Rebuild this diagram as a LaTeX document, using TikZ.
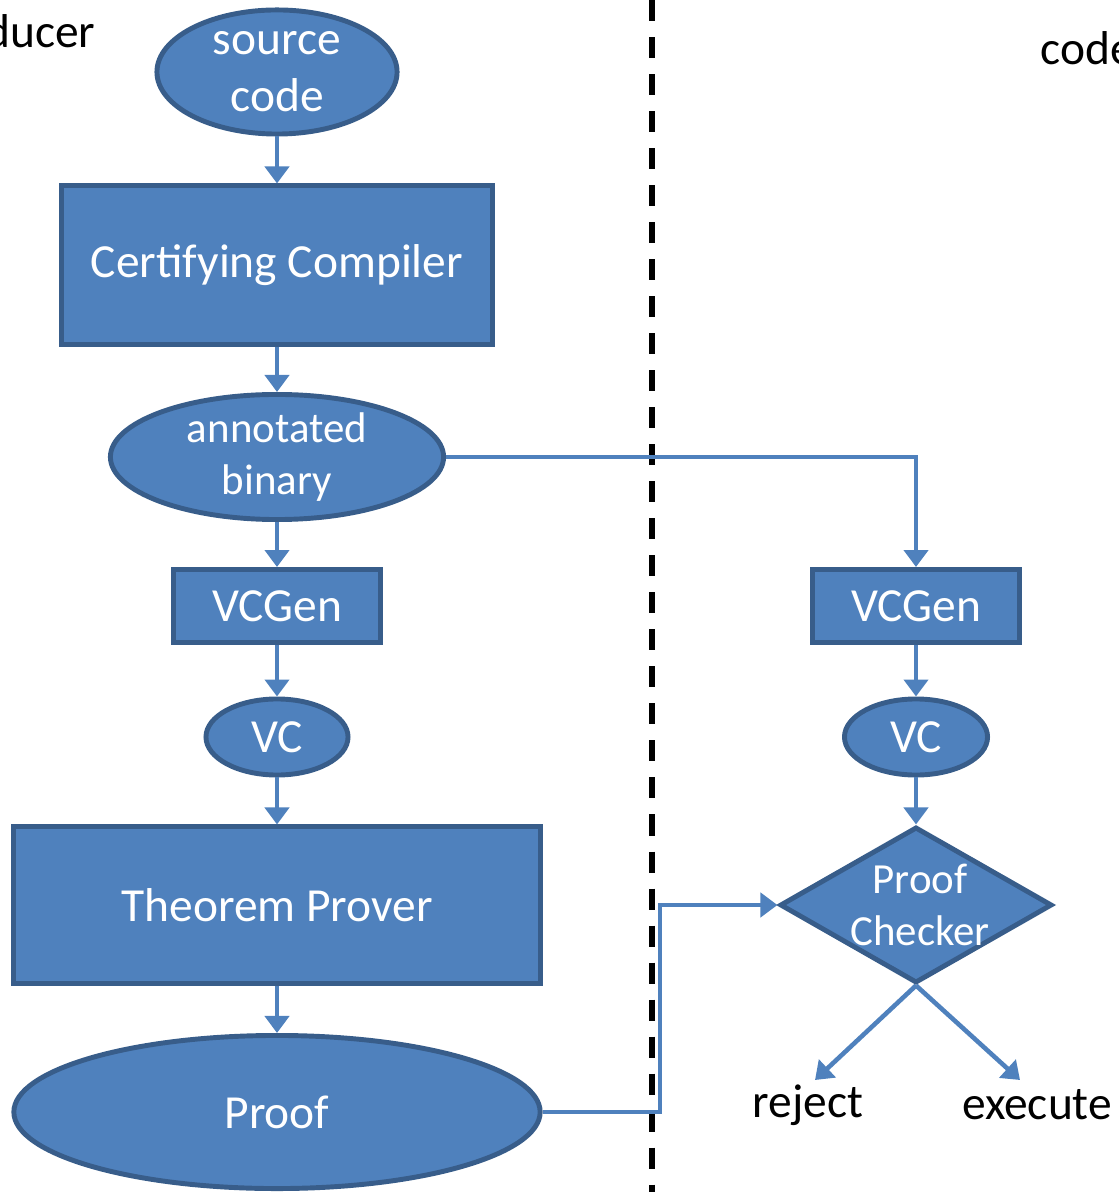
\documentclass[tikz,border=0pt]{standalone}
\usepackage{fontspec}
\setmainfont{Carlito}
\usetikzlibrary{positioning,shapes.geometric,arrows.meta}
\definecolor{boxblue}{HTML}{4F81BD}
\definecolor{boxedge}{HTML}{385D8A}

\begin{document}
\begin{tikzpicture}[x=0.01cm,y=-0.01cm,
  every node/.style={font=\fontsize{13.5}{16.2}\selectfont},
  small/.style={font=\fontsize{12.2}{14.6}\selectfont},
  shp/.style={fill=boxblue,draw=boxedge,line width=1.4pt,text=white,inner sep=0pt,align=center},
  blob/.style={shp,ellipse},
  blk/.style={shp,rectangle},
  flow/.style={draw=boxblue,line width=1.3pt,-{Triangle[width=0.24cm,length=0.17cm]}}
]
  \useasboundingbox (0,0) rectangle (1118,1192);

  % split between producer and consumer
  \draw[line width=1.6pt,dash pattern=on 0.21cm off 0.16cm] (652,0) -- (652,1192);
  \node[anchor=base east,inner sep=0pt] (prod) at (96,48) {code producer};
  \node[anchor=base west,inner sep=0pt] (cons) at (1040,65) {code consumer};

  % producer side
  \node[blob,minimum width=2.40cm,minimum height=1.24cm] (src) at (277,72) {source\\code};
  \node[blk,minimum width=4.30cm,minimum height=1.58cm] (cc) at (277,265) {Certifying Compiler};
  \node[blob,small,minimum width=3.33cm,minimum height=1.25cm] (ab) at (277,457) {annotated\\binary};
  \node[blk,minimum width=2.06cm,minimum height=0.73cm] (vg) at (277,606) {VCGen};
  \node[blob,minimum width=1.42cm,minimum height=0.76cm] (vc) at (277,737) {VC};
  \node[blk,minimum width=5.26cm,minimum height=1.56cm] (tp) at (277,905) {Theorem Prover};
  \node[blob,minimum width=5.26cm,minimum height=1.53cm] (pf) at (277,1112) {Proof};

  % consumer side
  \node[blk,minimum width=2.07cm,minimum height=0.73cm] (vg2) at (916,606) {VCGen};
  \node[blob,minimum width=1.43cm,minimum height=0.76cm] (vc2) at (916,737) {VC};
  \node[shp,diamond,minimum width=2.72cm,minimum height=1.56cm,
        label={[small,text=white,align=center,xshift=0.04cm]center:{Proof\\Checker}}] (pc) at (916,905) {};
  \node (rej) at (808,1105) {reject};
  \node (exe) at (1037,1105) {execute};

  \coordinate (jog) at (660,1000);
  \coordinate (rejtip) at (815,1080);
  \coordinate (exetip) at (1020,1080);

  \draw[flow] (src) -- (cc);
  \draw[flow] (cc) -- (ab);
  \draw[flow] (ab) -- (vg);
  \draw[flow] (vg) -- (vc);
  \draw[flow] (vc) -- (tp);
  \draw[flow] (tp) -- (pf);
  \draw[flow] (ab.east) -| (vg2.north);
  \draw[flow] (vg2) -- (vc2);
  \draw[flow] (vc2) -- (pc);
  \draw[flow] (pf.east) -| (jog) |- (pc.west);
  \draw[flow] (pc.south) -- (rejtip);
  \draw[flow] (pc.south) -- (exetip);
\end{tikzpicture}
\end{document}
